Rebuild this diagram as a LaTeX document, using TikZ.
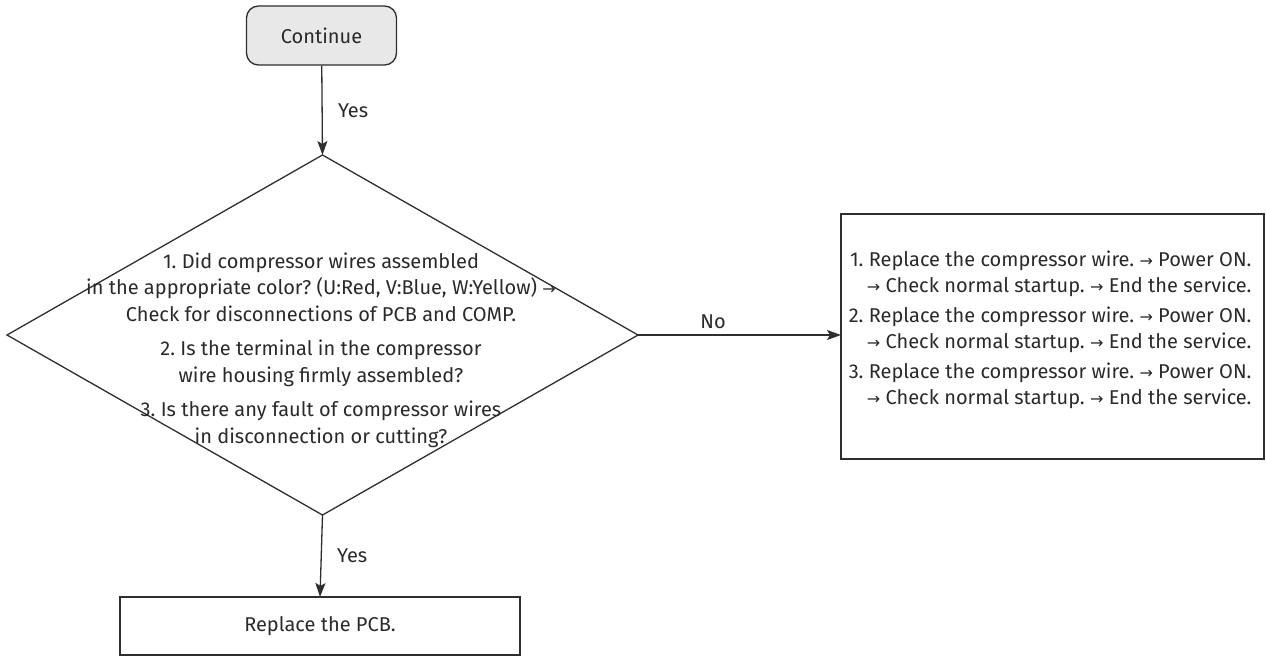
\documentclass[tikz,border=0pt]{standalone}
\usepackage{fontspec}
\setmainfont{Fira Sans}
\newfontfamily\arrowfont{DejaVu Sans}[Scale=0.8]
\usetikzlibrary{shapes.geometric, arrows.meta, positioning}
\frenchspacing
\definecolor{linegray}{HTML}{2E2E2E}
\definecolor{textgray}{HTML}{2A2A2A}
\definecolor{startfill}{HTML}{E8E8E8}
\newcommand{\ra}{{\arrowfont\symbol{"2192}}}
\tikzset{
  flowline/.style={draw=linegray, line width=1.3pt},
  flowarrow/.style={flowline, -{Stealth[length=14pt, width=10pt, inset=3pt]}},
  startbox/.style={flowline, rounded corners=12pt, fill=startfill, minimum width=150pt, minimum height=59pt, inner sep=0pt},
  decision/.style={flowline, diamond, minimum width=631pt, minimum height=360pt, inner sep=0pt, outer sep=0pt},
  actionbox/.style={flowline, rectangle, inner sep=0pt, outer sep=0pt},
  flowtext/.style={text=textgray, font=\fontsize{20}{26.5}\selectfont},
}
\begin{document}
\begin{tikzpicture}[x=1pt, y=-1pt, every node/.append style={flowtext}]
  \useasboundingbox (0,0) rectangle (1266,656);
  \node[startbox] (cont) at (321.5,35.5) {Continue};
  \node[decision] (dec) at (322.5,335) {};
  \node[align=center] (dectext) at (321,350) {%
    1. Did compressor wires assembled\\
    in the appropriate color? (U:Red, V:Blue, W:Yellow) \ra\\
    Check for disconnections of PCB and COMP.\\[8pt]
    2. Is the terminal in the compressor\\
    wire housing firmly assembled?\\[8pt]
    3. Is there any fault of compressor wires\\
    in disconnection or cutting?};
  \node[actionbox, minimum width=423pt, minimum height=245pt] (fix) at (1052.5,336.5) {};
  \node[align=right, anchor=east] (fixtext) at (1255,330) {%
    1. Replace the compressor wire. \ra{} Power ON.\\
    \ra{} Check normal startup. \ra{} End the service.\\[3pt]
    2. Replace the compressor wire. \ra{} Power ON.\\
    \ra{} Check normal startup. \ra{} End the service.\\[3pt]
    3. Replace the compressor wire. \ra{} Power ON.\\
    \ra{} Check normal startup. \ra{} End the service.};
  \node[actionbox, minimum width=400pt, minimum height=58pt] (pcb) at (320,626) {Replace the PCB.};
  % connectors
  \draw[flowarrow] (cont) -- (dec.north) node[midway, right=12pt] {Yes};
  \draw[flowarrow] (dec.east) -- (dec.east -| fix.west) node[pos=0.37, above=2pt] {No};
  \draw[flowarrow] (dec.south) -- (pcb.north) node[midway, right=12pt] {Yes};
\end{tikzpicture}
\end{document}
